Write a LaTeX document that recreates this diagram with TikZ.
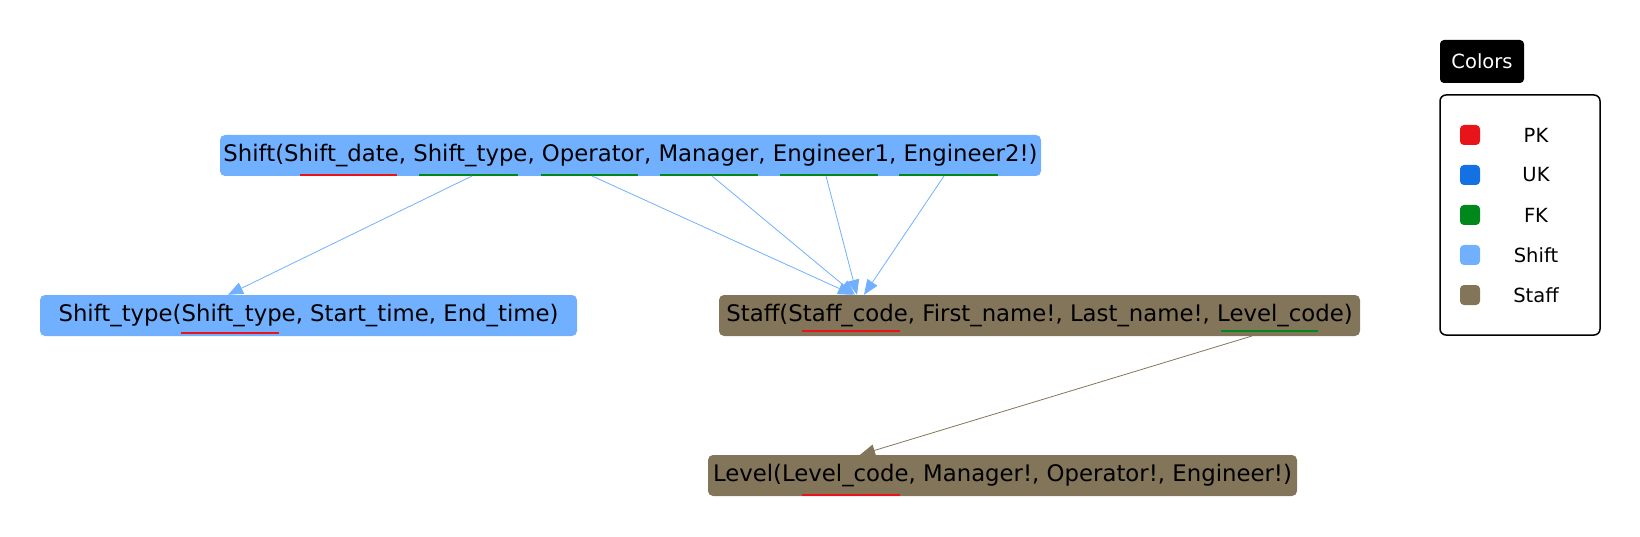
\documentclass[tikz,border=0pt]{standalone}
\usepackage{fontspec}
\setmainfont{DejaVu Sans}
\usetikzlibrary{arrows.meta}

\begin{document}
\begin{tikzpicture}[x=1pt,y=-1pt,
  relbox/.style={rounded corners=5pt,minimum height=41pt,inner sep=0pt,font=\fontsize{22.8}{26}\selectfont},
  keyline/.style={line width=2pt},
  swatch/.style={rounded corners=4pt,minimum width=20pt,minimum height=20pt,inner sep=0pt},
  legtext/.style={font=\fontsize{19.5}{23}\selectfont},
  shiftref/.style={draw=shiftcol,line width=0.8pt,-{Triangle[length=15pt,width=12pt]}},
  staffref/.style={draw=staffcol,line width=0.8pt,-{Triangle[length=15pt,width=12pt]}}]
\definecolor{shiftcol}{HTML}{70B0FF}
\definecolor{staffcol}{HTML}{827559}
\definecolor{pkcol}{HTML}{E8141A}
\definecolor{ukcol}{HTML}{1371E3}
\definecolor{fkcol}{HTML}{00881C}
\useasboundingbox (0,0) rectangle (1640,537);

% relations
\node[relbox,fill=shiftcol,minimum width=821pt] (shift) at (630.5,155.5) {Shift(Shift\_date, Shift\_type, Operator, Manager, Engineer1, Engineer2!)};
\node[relbox,fill=shiftcol,minimum width=537pt] (shifttype) at (308.5,315.5) {Shift\_type(Shift\_type, Start\_time, End\_time)};
\node[relbox,fill=staffcol,minimum width=641pt] (staff) at (1039.5,315.5) {Staff(Staff\_code, First\_name!, Last\_name!, Level\_code)};
\node[relbox,fill=staffcol,minimum width=589pt] (level) at (1002.5,475.5) {Level(Level\_code, Manager!, Operator!, Engineer!)};

% key underlines
\draw[keyline,pkcol] (300,175) -- (397,175);
\draw[keyline,fkcol] (419,175) -- (518,175);
\draw[keyline,fkcol] (541,175) -- (638,175);
\draw[keyline,fkcol] (660,175) -- (758,175);
\draw[keyline,fkcol] (780,175) -- (878,175);
\draw[keyline,fkcol] (899,175) -- (998,175);
\draw[keyline,pkcol] (181,333) -- (279,333);
\draw[keyline,pkcol] (802,330.5) -- (900,330.5);
\draw[keyline,fkcol] (1221,330.5) -- (1318,330.5);
\draw[keyline,pkcol] (802,495) -- (900,495);

% references
\coordinate (fktype) at (472,176);
\coordinate (fkop) at (592,176);
\coordinate (fkman) at (712,176);
\coordinate (fkeng1) at (826,176);
\coordinate (fkeng2) at (944,176);
\coordinate (fklevel) at (1252,336);
\draw[shiftref] (fktype) -- (shifttype.north -| 228,0);
\draw[shiftref] (fkop) -- (staff.north -| 853,0);
\draw[shiftref] (fkman) -- (staff.north -| 855,0);
\draw[shiftref] (fkeng1) -- (staff.north -| 857,0);
\draw[shiftref] (fkeng2) -- (staff.north -| 864,0);
\draw[staffref] (fklevel) -- (level.north -| 860,0);

% legend
\node[fill=black,text=white,rounded corners=4pt,minimum width=84pt,minimum height=43pt,inner sep=0pt,legtext] (colors) at (1482,61.5) {Colors};
\node[draw=black,line width=1.5pt,rounded corners=6pt,minimum width=160pt,minimum height=240pt,inner sep=0pt] (legend) at (1520,215) {};
\node[swatch,fill=pkcol] (pk) at (1470,135) {}; \node[legtext] (pktext) at (1536,135) {PK};
\node[swatch,fill=ukcol] (uk) at (1470,175) {}; \node[legtext] (uktext) at (1536,175) {UK};
\node[swatch,fill=fkcol] (fk) at (1470,215) {}; \node[legtext] (fktext) at (1536,215) {FK};
\node[swatch,fill=shiftcol] (shiftsw) at (1470,255) {}; \node[legtext] (shifttext) at (1536,255) {Shift};
\node[swatch,fill=staffcol] (staffsw) at (1470,295) {}; \node[legtext] (stafftext) at (1536,295) {Staff};
\end{tikzpicture}
\end{document}
